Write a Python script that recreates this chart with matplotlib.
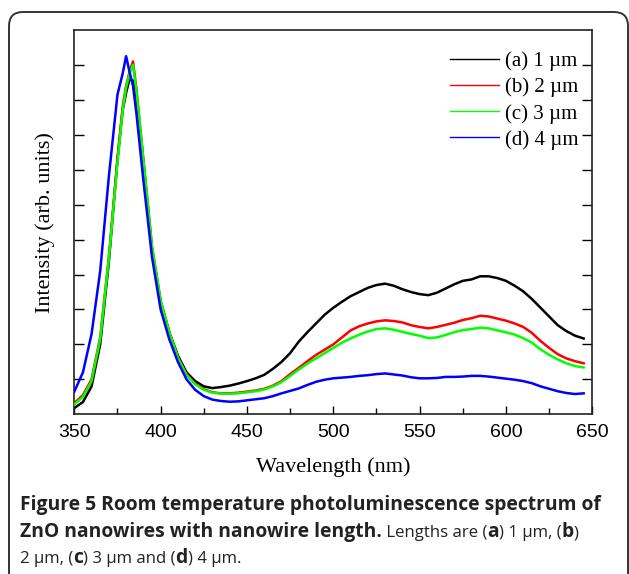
import matplotlib
matplotlib.use("Agg")
import matplotlib.pyplot as plt
from matplotlib.patches import FancyBboxPatch
from matplotlib.transforms import IdentityTransform
from matplotlib.lines import Line2D

# wavelength grid (nm)
wavelength = [350, 355, 360, 365, 370, 375, 378, 380, 382, 384, 386, 390, 395,
              400, 405, 410, 415, 420, 425, 430, 435, 440, 445, 450, 455, 460,
              465, 470, 475, 480, 485, 490, 495, 500, 505, 510, 515, 520, 525,
              530, 535, 540, 545, 550, 555, 560, 565, 570, 575, 580, 585, 590,
              595, 600, 605, 610, 615, 620, 625, 630, 635, 640, 645]

# intensities (arb. units)
pl_1um = [0.18, 0.35, 0.80, 2.00, 4.35, 7.30, 8.70, 9.20, 9.60, 9.55, 9.00, 7.20, 4.65,
          3.20, 2.35, 1.68, 1.20, 0.95, 0.80, 0.75, 0.78, 0.82, 0.88, 0.95, 1.03, 1.13,
          1.30, 1.50, 1.75, 2.08, 2.35, 2.60, 2.85, 3.05, 3.22, 3.38, 3.50, 3.62, 3.70,
          3.74, 3.68, 3.58, 3.50, 3.44, 3.41, 3.48, 3.60, 3.72, 3.82, 3.86, 3.95, 3.95,
          3.90, 3.82, 3.68, 3.52, 3.30, 3.05, 2.80, 2.55, 2.38, 2.25, 2.17]
pl_2um = [0.32, 0.55, 1.00, 2.20, 4.50, 7.30, 8.80, 9.40, 9.80, 10.10, 9.30, 7.30, 4.80,
          3.25, 2.35, 1.62, 1.15, 0.88, 0.72, 0.63, 0.60, 0.60, 0.62, 0.65, 0.68, 0.73,
          0.82, 0.95, 1.15, 1.33, 1.52, 1.70, 1.85, 2.00, 2.20, 2.40, 2.52, 2.60, 2.66,
          2.69, 2.67, 2.63, 2.55, 2.50, 2.46, 2.50, 2.56, 2.62, 2.70, 2.75, 2.82, 2.80,
          2.74, 2.68, 2.60, 2.50, 2.33, 2.10, 1.90, 1.72, 1.60, 1.52, 1.46]
pl_3um = [0.28, 0.50, 0.95, 2.15, 4.45, 7.20, 8.70, 9.35, 9.75, 10.00, 9.25, 7.30, 4.80,
          3.25, 2.35, 1.62, 1.12, 0.86, 0.70, 0.62, 0.59, 0.59, 0.60, 0.63, 0.66, 0.71,
          0.80, 0.92, 1.10, 1.28, 1.45, 1.60, 1.75, 1.90, 2.05, 2.17, 2.28, 2.37, 2.44,
          2.46, 2.42, 2.36, 2.30, 2.25, 2.18, 2.20, 2.27, 2.35, 2.41, 2.44, 2.48, 2.46,
          2.40, 2.35, 2.28, 2.18, 2.05, 1.86, 1.70, 1.57, 1.46, 1.38, 1.34]
pl_4um = [0.65, 1.20, 2.30, 4.10, 6.80, 9.15, 9.75, 10.25, 9.80, 9.40, 8.60, 6.70, 4.50,
          3.00, 2.15, 1.50, 1.00, 0.70, 0.52, 0.42, 0.38, 0.36, 0.37, 0.40, 0.43, 0.46,
          0.52, 0.60, 0.67, 0.74, 0.84, 0.93, 0.99, 1.03, 1.05, 1.07, 1.10, 1.12, 1.15,
          1.17, 1.14, 1.11, 1.06, 1.03, 1.03, 1.04, 1.07, 1.07, 1.08, 1.10, 1.10, 1.08,
          1.05, 1.02, 0.99, 0.95, 0.89, 0.80, 0.73, 0.66, 0.61, 0.58, 0.60]

labels = ['(a) 1 \u00b5m', '(b) 2 \u00b5m', '(c) 3 \u00b5m', '(d) 4 \u00b5m']
colors = ['#000000', '#ff0000', '#00ff00', '#0000ff']
series = [pl_1um, pl_2um, pl_3um, pl_4um]

fig = plt.figure(figsize=(6.29, 5.74), dpi=100)
W, H = 629, 574

# rounded frame around figure + caption
frame = FancyBboxPatch((9, -30), 619, H - 12 + 30, boxstyle='round,pad=0,rounding_size=14',
                       transform=IdentityTransform(), fill=False, ec='#333333', lw=1.4)
fig.patches.append(frame)

ax = fig.add_axes([74.3 / W, 1 - 414.3 / H, 518 / W, 384.3 / H])

# draw green under red so red stays on top, legend keeps a-b-c-d order
for i in [0, 2, 1, 3]:
    ax.plot(wavelength, series[i], color=colors[i], lw=1.8, zorder=2 + i)

handles = [Line2D([], [], color=c, lw=1.0) for c in colors]
ax.legend(handles, labels, loc='upper right', bbox_to_anchor=(0.99, 0.966), frameon=False,
          prop={'family': 'Liberation Serif', 'size': 15}, handlelength=2.35,
          handletextpad=0.3, labelspacing=0.31, borderaxespad=0)

ax.set_xlim(350, 650)
ax.set_ylim(0, 11)
ax.set_xticks([350, 400, 450, 500, 550, 600, 650])
ax.set_xticks([375, 425, 475, 525, 575, 625], minor=True)
ax.set_yticks(range(1, 11))
ax.tick_params(axis='x', which='both', direction='in', top=False, pad=7,
               labelsize=14, labelfontfamily='Liberation Sans')
ax.tick_params(axis='x', which='major', length=6, width=1.0)
ax.tick_params(axis='x', which='minor', length=4, width=1.0)
ax.tick_params(axis='y', direction='in', left=True, right=True, labelleft=False,
               length=7, width=1.0)
for s in ax.spines.values():
    s.set_linewidth(1.2)
    s.set_color('#222222')

ax.set_xlabel('Wavelength (nm)', family='Liberation Serif', fontsize=16, labelpad=12)
ax.set_ylabel('Intensity (arb. units)', family='Liberation Serif', fontsize=16, labelpad=14)

# caption with mixed bold / regular pieces
renderer = fig.canvas.get_renderer()
sizes = {'bold': 13.9, 'normal': 12.1}


def caption_line(pieces, x, y):
    for txt, weight in pieces:
        t = fig.text(x, y, txt, transform=IdentityTransform(), family='Open Sans',
                     fontsize=sizes[weight], fontweight=weight, va='baseline', ha='left',
                     color='#222222')
        x = t.get_window_extent(renderer).x1


caption_line([('Figure 5 Room temperature photoluminescence spectrum of', 'bold')], 20, H - 510)
caption_line([('ZnO nanowires with nanowire length.', 'bold'), (' Lengths are (', 'normal'),
              ('a', 'bold'), (') 1 \u00b5m, (', 'normal'), ('b', 'bold'), (')', 'normal')],
             20, H - 537)
caption_line([('2 \u00b5m, (', 'normal'), ('c', 'bold'), (') 3 \u00b5m and (', 'normal'),
              ('d', 'bold'), (') 4 \u00b5m.', 'normal')], 20, H - 563)

fig.savefig('out.png', dpi=100)
